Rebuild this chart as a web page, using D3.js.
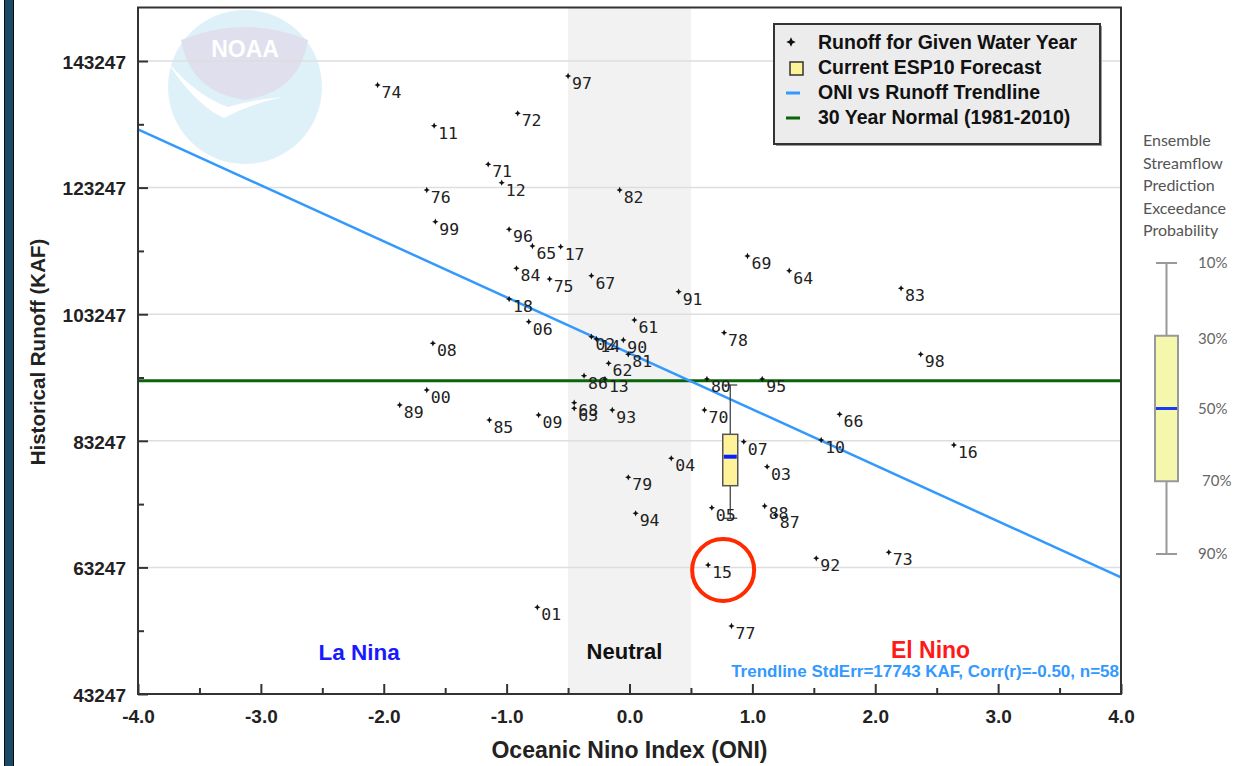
<!DOCTYPE html>
<html>
<head>
<meta charset="utf-8">
<title>ONI vs Historical Runoff</title>
<script src="https://cdn.jsdelivr.net/npm/d3@7"></script>
<style>
    body { margin: 0; background: #fff; }
    svg { display: block; font-family: "Liberation Sans", Arial, sans-serif; }
</style>
</head>
<body>
<script>
    // water year labels, ONI and runoff (KAF)
    const years = ["74","97","72","11","71","12","76","82","99","96","65","17","69","84","75","67","64","91","18","06",
                   "61","78","08","02","14","90","81","62","86","13","80","95","00","89","68","63","93","70","09","85",
                   "07","10","04","03","79","05","88","94","83","98","66","16","87","15","92","01","77","73"];
    const oni = [-2.05,-0.50,-0.91,-1.59,-1.15,-1.04,-1.65,-0.08,-1.58,-0.98,-0.79,-0.56,0.96,-0.92,-0.65,-0.31,1.30,0.40,-0.98,-0.82,
                 0.04,0.77,-1.60,-0.31,-0.27,-0.05,-0.01,-0.17,-0.37,-0.20,0.63,1.08,-1.65,-1.87,-0.45,-0.45,-0.14,0.61,-0.74,-1.14,
                 0.93,1.56,0.34,1.12,-0.01,0.67,1.10,0.05,2.21,2.37,1.71,2.64,1.19,0.64,1.52,-0.75,0.83,2.11];
    const runoff = [139457,140879,134984,133027,126928,124022,122869,122869,117862,116660,114022,113913,112442,110499,108809,109330,110120,106802,105649,102063,
                    102332,100325,98651,99693,99330,99172,96913,95491,93532,93011,93011,93011,91273,88903,89267,88382,88113,88113,87323,86534,
                    83105,83374,80483,79156,77481,72679,72947,71794,107339,96913,87434,82584,71525,63626,64685,56944,53990,65633];

    // ESP10 forecast box: exceedance percentiles
    const forecastOni = 0.82;
    const exceedPct = [10, 30, 50, 70, 90];
    const forecastKaf = [92062, 84274, 80735, 76154, 71004];

    const trendOni = [-4, 4];
    const trendKaf = [132457, 61683];
    const normalKaf = 92750;

    const yMajor = [43247, 63247, 83247, 103247, 123247, 143247];
    const yMinor = [53247, 73247, 93247, 113247, 133247];
    const xMajor = [-4, -3, -2, -1, 0, 1, 2, 3, 4];
    const xMinor = [-3.5, -2.5, -1.5, -0.5, 0.5, 1.5, 2.5, 3.5];

    const legendLabels = ["Runoff for Given Water Year", "Current ESP10 Forecast",
                          "ONI vs Runoff Trendline", "30 Year Normal (1981-2010)"];
    const espText = ["Ensemble", "Streamflow", "Prediction", "Exceedance", "Probability"];

    const svg = d3.select("body").append("svg").attr("width", 1248).attr("height", 766);

    const x = d3.scaleLinear().domain([-4, 4]).range([138, 1121]);
    const y = d3.scaleLinear().domain([43247, 151700]).range([694, 7.5]);

    // left dark strip of the page
    svg.append("rect").attr("x", 4.5).attr("y", -1).attr("width", 9).attr("height", 768)
        .attr("fill", "#1b4a68").attr("stroke", "#0c0c0c");

    // neutral band
    svg.append("rect").attr("x", x(-0.5)).attr("y", y.range()[1])
        .attr("width", x(0.5) - x(-0.5)).attr("height", y.range()[0] - y.range()[1])
        .attr("fill", "#f2f2f2");

    // faded NOAA logo
    let logo = svg.append("g").attr("opacity", 0.8);
    logo.append("circle").attr("cx", 245).attr("cy", 87).attr("r", 77).attr("fill", "#d7eef8");
    logo.append("path").attr("d", "M181,40 Q245,14 308,40 Q300,92 245,100 Q190,92 181,40 Z").attr("fill", "#d8d8ea");
    logo.append("path").attr("d", "M166,60 Q195,105 224,118 Q250,104 283,97 Q250,100 228,107 Q195,95 166,60 Z").attr("fill", "#ffffff");
    logo.append("text").attr("x", 245).attr("y", 57).attr("text-anchor", "middle")
        .attr("font-family", "'Liberation Sans Narrow', 'Liberation Sans', sans-serif")
        .attr("font-weight", "bold").attr("font-size", 23).attr("fill", "#fff").text("NOAA");

    // gridlines
    svg.append("g").selectAll("line").data(yMajor.slice(1)).join("line")
        .attr("x1", x(-4)).attr("x2", x(4)).attr("y1", d => y(d)).attr("y2", d => y(d))
        .attr("stroke", "#dedede").attr("stroke-width", 1.5);

    // 30 year normal and trendline
    svg.append("line").attr("x1", x(-4)).attr("x2", x(4)).attr("y1", y(normalKaf)).attr("y2", y(normalKaf))
        .attr("stroke", "#0a640a").attr("stroke-width", 3);
    svg.append("path")
        .attr("d", d3.line().x(d => x(d[0])).y(d => y(d[1]))(d3.zip(trendOni, trendKaf)))
        .attr("stroke", "#3399ff").attr("stroke-width", 2.5).attr("fill", "none");

    // forecast box
    let bx = x(forecastOni), bw = 15;
    let box = svg.append("g");
    box.append("line").attr("x1", bx).attr("x2", bx).attr("y1", y(forecastKaf[0])).attr("y2", y(forecastKaf[4]))
        .attr("stroke", "#444").attr("stroke-width", 1.3);
    [forecastKaf[0], forecastKaf[4]].forEach(v => {
        box.append("line").attr("x1", bx - 7).attr("x2", bx + 7).attr("y1", y(v)).attr("y2", y(v))
            .attr("stroke", "#444").attr("stroke-width", 1.3);
    });
    box.append("rect").attr("x", bx - bw / 2).attr("y", y(forecastKaf[1]))
        .attr("width", bw).attr("height", y(forecastKaf[3]) - y(forecastKaf[1]))
        .attr("fill", "#fff39a").attr("stroke", "#555").attr("stroke-width", 1.5);
    box.append("line").attr("x1", bx - bw / 2 + 1).attr("x2", bx + bw / 2 - 1)
        .attr("y1", y(forecastKaf[2])).attr("y2", y(forecastKaf[2]))
        .attr("stroke", "#0a1fff").attr("stroke-width", 4);

    // four point star marker
    const star4 = {
        draw(ctx, size) {
            let r = Math.sqrt(size) / 2, i = r * 0.32;
            ctx.moveTo(0, -r); ctx.lineTo(i, -i); ctx.lineTo(r, 0); ctx.lineTo(i, i);
            ctx.lineTo(0, r); ctx.lineTo(-i, i); ctx.lineTo(-r, 0); ctx.lineTo(-i, -i); ctx.closePath();
        }
    };

    const pts = years.map((yr, i) => ({ yr: yr, oni: oni[i], kaf: runoff[i] }));
    let pg = svg.append("g");
    pg.selectAll("path").data(pts).join("path")
        .attr("transform", d => `translate(${x(d.oni)},${y(d.kaf)})`)
        .attr("d", d3.symbol(star4, 40)).attr("fill", "#111");
    pg.selectAll("text").data(pts).join("text")
        .attr("x", d => x(d.oni) + 4).attr("y", d => y(d.kaf) + 13)
        .attr("font-family", "'DejaVu Sans Mono', monospace").attr("font-size", 16.5)
        .attr("fill", "#222").text(d => d.yr);

    // circle round 2015
    let p15 = pts.find(d => d.yr === "15");
    svg.append("circle").attr("cx", x(p15.oni) + 15).attr("cy", y(p15.kaf) + 5).attr("r", 31)
        .attr("fill", "none").attr("stroke", "#ff2a00").attr("stroke-width", 4);

    // phase labels
    svg.append("text").attr("x", x(-2.2)).attr("y", 660).attr("text-anchor", "middle")
        .attr("font-weight", "bold").attr("font-size", 22.5).attr("fill", "#1a1aff").text("La Nina");
    svg.append("text").attr("x", x(0) - 5).attr("y", 659).attr("text-anchor", "middle")
        .attr("font-weight", "bold").attr("font-size", 22).attr("fill", "#111").text("Neutral");
    svg.append("text").attr("x", x(2.45)).attr("y", 658).attr("text-anchor", "middle")
        .attr("font-weight", "bold").attr("font-size", 23).attr("fill", "#ff1a1a").text("El Nino");
    svg.append("text").attr("x", x(4) - 2).attr("y", 677).attr("text-anchor", "end")
        .attr("font-weight", "bold").attr("font-size", 17).attr("fill", "#3399ff")
        .text("Trendline StdErr=17743 KAF, Corr(r)=-0.50, n=58");

    // frame
    svg.append("rect").attr("x", x(-4)).attr("y", y.range()[1])
        .attr("width", x(4) - x(-4)).attr("height", y.range()[0] - y.range()[1])
        .attr("fill", "none").attr("stroke", "#333").attr("stroke-width", 2);

    // axes
    function styleAxis(g, size) {
        g.select(".domain").remove();
        g.attr("font-family", "'Liberation Sans', Arial, sans-serif").attr("font-size", size).attr("font-weight", "bold");
        g.selectAll(".tick line").attr("stroke", "#333").attr("stroke-width", 2);
        g.selectAll(".tick text").attr("fill", "#222");
    }
    svg.append("g").attr("transform", "translate(138,0)")
        .call(d3.axisLeft(y).tickValues(yMajor).tickSize(-10).tickPadding(12).tickFormat(d => d))
        .call(g => styleAxis(g, 19))
        .call(g => g.selectAll(".tick text").attr("dy", "0.38em"));
    svg.append("g").attr("transform", "translate(138,0)")
        .call(d3.axisLeft(y).tickValues(yMinor).tickSize(-6).tickFormat(""))
        .call(g => styleAxis(g, 19));
    svg.append("g").attr("transform", "translate(0,694)")
        .call(d3.axisBottom(x).tickValues(xMajor).tickSize(-10).tickPadding(16).tickFormat(d => d.toFixed(1)))
        .call(g => styleAxis(g, 19));
    svg.append("g").attr("transform", "translate(0,694)")
        .call(d3.axisBottom(x).tickValues(xMinor).tickSize(-6).tickFormat(""))
        .call(g => styleAxis(g, 19));

    svg.append("text").attr("x", x(0)).attr("y", 758).attr("text-anchor", "middle")
        .attr("font-weight", "bold").attr("font-size", 23).attr("fill", "#222").text("Oceanic Nino Index (ONI)");
    svg.append("text").attr("transform", "translate(45,352) rotate(-90)").attr("text-anchor", "middle")
        .attr("font-weight", "bold").attr("font-size", 20.5).attr("fill", "#222").text("Historical Runoff (KAF)");

    // legend
    let lg = svg.append("g");
    lg.append("rect").attr("x", 776).attr("y", 26).attr("width", 326).attr("height", 120).attr("fill", "#999");
    lg.append("rect").attr("x", 774).attr("y", 24).attr("width", 326).attr("height", 120)
        .attr("fill", "#ececec").attr("stroke", "#333").attr("stroke-width", 2);
    lg.selectAll("text").data(legendLabels).join("text")
        .attr("x", 818).attr("y", (d, i) => 49 + i * 25)
        .attr("font-weight", "bold").attr("font-size", 19.5).attr("fill", "#111").text(d => d);
    lg.append("path").attr("transform", "translate(791,42)").attr("d", d3.symbol(star4, 90)).attr("fill", "#111");
    lg.append("rect").attr("x", 790).attr("y", 62).attr("width", 13).attr("height", 13)
        .attr("fill", "#fff39a").attr("stroke", "#333").attr("stroke-width", 1.5);
    lg.append("line").attr("x1", 786).attr("x2", 800).attr("y1", 93).attr("y2", 93).attr("stroke", "#3399ff").attr("stroke-width", 3);
    lg.append("line").attr("x1", 786).attr("x2", 800).attr("y1", 118).attr("y2", 118).attr("stroke", "#0a640a").attr("stroke-width", 3);

    // exceedance key on the right
    const pct = d3.scaleLinear().domain([10, 90]).range([263, 554]);
    let kg = svg.append("g").attr("font-family", "Lato, 'Open Sans', sans-serif").attr("fill", "#555");
    kg.selectAll("text.h").data(espText).join("text").attr("class", "h")
        .attr("x", 1143).attr("y", (d, i) => 146 + i * 22.5).attr("font-size", 16).text(d => d);
    kg.append("line").attr("x1", 1166.5).attr("x2", 1166.5).attr("y1", pct(10)).attr("y2", pct(90))
        .attr("stroke", "#999").attr("stroke-width", 2);
    [10, 90].forEach(p => kg.append("line").attr("x1", 1156).attr("x2", 1177).attr("y1", pct(p)).attr("y2", pct(p))
        .attr("stroke", "#999").attr("stroke-width", 2));
    kg.append("rect").attr("x", 1155).attr("y", pct(30)).attr("width", 23).attr("height", pct(70) - pct(30))
        .attr("fill", "#f4f7ac").attr("stroke", "#999").attr("stroke-width", 2);
    kg.append("line").attr("x1", 1156).attr("x2", 1177).attr("y1", pct(50)).attr("y2", pct(50))
        .attr("stroke", "#1a3cf0").attr("stroke-width", 3);
    kg.selectAll("text.p").data(exceedPct).join("text").attr("class", "p")
        .attr("x", d => d === 70 ? 1202 : 1198).attr("y", d => pct(d) + 5 + (d === 30 ? 3 : 0))
        .attr("font-size", 15).attr("fill", "#666").text(d => d + "%");
</script>
</body>
</html>
